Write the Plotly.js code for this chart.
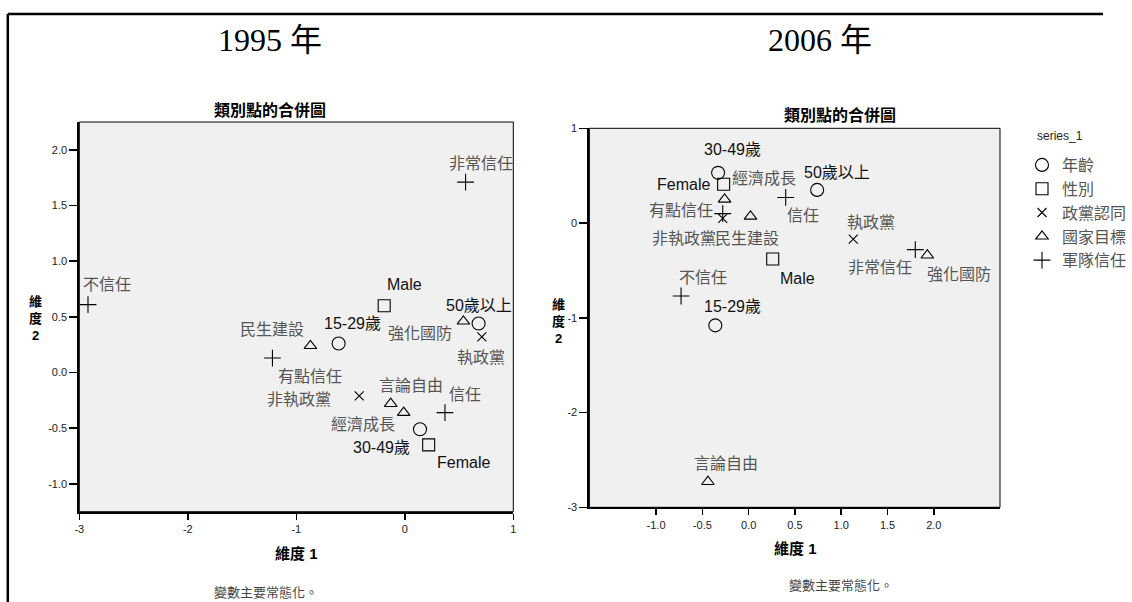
<!DOCTYPE html>
<html><head><meta charset="utf-8">
<script src="https://cdn.plot.ly/plotly-3.0.1.min.js"></script>
<style>html,body{margin:0;padding:0;background:#fff}#chart{width:1132px;height:602px}</style>
</head><body><div id="chart"></div>
<script>
// ---- categories ----
const groupNames = ['年齡', '性別', '政黨認同', '國家目標', '軍隊信任'];
const ageCats = ['15-29歲', '30-49歲', '50歲以上'];
const sexCats = ['Male', 'Female'];
const partyCats = ['執政黨', '非執政黨'];
const goalCats = ['強化國防', '民生建設', '言論自由', '經濟成長'];
const armyCats = ['非常信任', '信任', '有點信任', '不信任'];

// ---- 1995 values (dimension 1, dimension 2) ----
const age95Dim1 = [-0.61, 0.14, 0.68];
const age95Dim2 = [0.26, -0.51, 0.44];
const sex95Dim1 = [-0.19, 0.22];
const sex95Dim2 = [0.60, -0.65];
const party95Dim1 = [0.71, -0.42];
const party95Dim2 = [0.32, -0.21];
const goal95Dim1 = [0.54, -0.87, -0.13, -0.01];
const goal95Dim2 = [0.46, 0.24, -0.28, -0.36];
const army95Dim1 = [0.56, 0.37, -1.22, -2.92];
const army95Dim2 = [1.71, -0.36, 0.13, 0.61];

// ---- 2006 values ----
const age06Dim1 = [-0.36, -0.33, 0.74];
const age06Dim2 = [-1.08, 0.53, 0.35];
const sex06Dim1 = [0.26, -0.27];
const sex06Dim2 = [-0.38, 0.41];
const party06Dim1 = [1.13, -0.28];
const party06Dim2 = [-0.17, 0.05];
const goal06Dim1 = [1.93, 0.02, -0.44, -0.26];
const goal06Dim2 = [-0.34, 0.07, -2.73, 0.25];
const army06Dim1 = [1.80, 0.40, -0.28, -0.73];
const army06Dim2 = [-0.28, 0.27, 0.10, -0.77];

// ---- tick labels ----
const x95Ticks = [-3, -2, -1, 0, 1];
const x95TickText = ['-3', '-2', '-1', '0', '1'];
const y95Ticks = [-1.0, -0.5, 0.0, 0.5, 1.0, 1.5, 2.0];
const y95TickText = ['-1.0', '-0.5', '0.0', '0.5', '1.0', '1.5', '2.0'];
const x06Ticks = [-1.0, -0.5, 0.0, 0.5, 1.0, 1.5, 2.0];
const x06TickText = ['-1.0', '-0.5', '0.0', '0.5', '1.0', '1.5', '2.0'];
const y06Ticks = [-3, -2, -1, 0, 1];
const y06TickText = ['-3', '-2', '-1', '0', '1'];

// ---- label placement (pixel offsets from marker: [dx, dy], dy downwards) ----
const labelOffset95 = {
  '非常信任': [15, -19], '不信任': [19, -20], 'Male': [20, -21], '50歲以上': [0, -18],
  '強化國防': [-43, 12], '執政黨': [-1, 21], '民生建設': [-38, -16], '15-29歲': [14, -20],
  '有點信任': [38, 18], '非執政黨': [-60, 4], '言論自由': [20, -18], '信任': [20, -18],
  '經濟成長': [-41, 12], '30-49歲': [-38, 18], 'Female': [35, 18]
};
const labelOffset06 = {
  '30-49歲': [14, -23], 'Female': [-40, 0], '經濟成長': [39, -21], '50歲以上': [20, -17],
  '有點信任': [-42, -3], '信任': [17, 18], '執政黨': [18, -17], '非執政黨': [-39, 20],
  '民生建設': [-3, 22], 'Male': [25, 19], '非常信任': [-35, 18], '強化國防': [32, 19],
  '不信任': [22, -19], '15-29歲': [17, -19], '言論自由': [18, -18]
};

const catSets = [ageCats, sexCats, partyCats, goalCats, armyCats];
const d95 = [[age95Dim1, age95Dim2], [sex95Dim1, sex95Dim2], [party95Dim1, party95Dim2], [goal95Dim1, goal95Dim2], [army95Dim1, army95Dim2]];
const d06 = [[age06Dim1, age06Dim2], [sex06Dim1, sex06Dim2], [party06Dim1, party06Dim2], [goal06Dim1, goal06Dim2], [army06Dim1, army06Dim2]];

const symbols = ['circle-open', 'square-open', 'x-thin-open', 'triangle-up-open', 'cross-thin-open'];
const sizes = [13, 12, 9, 11, 12];

const FONT = 'Liberation Sans, Arial, Noto Sans CJK TC, sans-serif';
const traces = [];
const annotations = [];

function addPanel(data, xa, ya, offsets, legend) {
  data.forEach((pair, g) => {
    traces.push({
      type: 'scatter', mode: 'markers', name: groupNames[g],
      x: pair[0], y: pair[1], xaxis: xa, yaxis: ya,
      showlegend: legend, hoverinfo: 'skip',
      marker: { symbol: symbols[g], size: sizes[g], color: '#000', line: { color: '#000', width: 1.1 } },
      cliponaxis: false
    });
    catSets[g].forEach((lab, i) => {
      const off = offsets[lab] || [0, -18];
      const latin = /[A-Za-z0-9]/.test(lab);
      annotations.push({
        x: pair[0][i], y: pair[1][i], xref: xa, yref: ya, text: lab, showarrow: false,
        xshift: off[0], yshift: -off[1], xanchor: 'center', yanchor: 'middle',
        font: { family: FONT, size: 16, color: latin ? '#111' : '#555' }
      });
    });
  });
}
addPanel(d95, 'x', 'y', labelOffset95, false);
addPanel(d06, 'x2', 'y2', labelOffset06, true);

function px(x) { return x / 1132; }
function py(y) { return 1 - y / 602; }
function paperText(text, x, y, size, opts) {
  annotations.push(Object.assign({
    text: text, x: px(x), y: py(y), xref: 'paper', yref: 'paper', showarrow: false,
    xanchor: 'center', yanchor: 'middle', font: { family: FONT, size: size, color: '#000' }
  }, opts || {}));
}
const SERIF = 'Liberation Serif, Times New Roman, Noto Sans CJK TC, serif';
paperText('1995 年', 277, 40, 32, { font: { family: SERIF, size: 32, color: '#000' } });
paperText('2006 年', 842, 40, 32, { font: { family: SERIF, size: 32, color: '#000' } });
paperText('<b>類別點的合併圖</b>', 277, 110, 16);
paperText('<b>類別點的合併圖</b>', 862, 115, 16);
paperText('<b>維度 1</b>', 304, 553, 15);
paperText('<b>維度 1</b>', 816, 548, 15);
paperText('<b>維<br>度<br>2</b>', 36, 318, 13);
paperText('<b>維<br>度<br>2</b>', 573, 322, 13);
paperText('變數主要常態化。', 273, 592, 13, { font: { family: FONT, size: 13, color: '#444' } });
paperText('變數主要常態化。', 863, 585, 13, { font: { family: FONT, size: 13, color: '#444' } });
paperText('series_1', 1088, 136, 12, { font: { family: FONT, size: 12, color: '#222' } });

const axBase = {
  showgrid: false, zeroline: false, showline: true, linecolor: '#000', linewidth: 2,
  ticks: 'outside', tickcolor: '#000', tickwidth: 1.5,
  tickfont: { family: FONT, size: 11, color: '#222' }, fixedrange: true
};

const layout = {
  width: 1132, height: 602,
  margin: { l: 0, r: 0, t: 0, b: 0 },
  paper_bgcolor: '#fff', plot_bgcolor: '#f0f0f0',
  font: { family: FONT },
  xaxis: Object.assign({}, axBase, { domain: [px(81.4), px(526.8)], anchor: 'y', range: [-3, 1], tickvals: x95Ticks, ticktext: x95TickText, ticklen: 6 }),
  yaxis: Object.assign({}, axBase, { domain: [py(511.7), py(122)], anchor: 'x', range: [-1.25, 2.25], tickvals: y95Ticks, ticktext: y95TickText, ticklen: 8 }),
  xaxis2: Object.assign({}, axBase, { domain: [px(604.9), px(1026.3)], anchor: 'y2', range: [-1.72, 2.715], tickvals: x06Ticks, ticktext: x06TickText, ticklen: 6 }),
  yaxis2: Object.assign({}, axBase, { domain: [py(507.3), py(128.3)], anchor: 'x2', range: [-3, 1], tickvals: y06Ticks, ticktext: y06TickText, ticklen: 8 }),
  showlegend: true,
  legend: {
    x: px(1049), y: py(148), xanchor: 'left', yanchor: 'top',
    bgcolor: 'rgba(0,0,0,0)', borderwidth: 0,
    font: { family: FONT, size: 16, color: '#555' },
    itemclick: false, itemdoubleclick: false
  },
  annotations: annotations,
  shapes: [
    { type: 'rect', xref: 'x domain', yref: 'y domain', x0: 0, x1: 1, y0: 0, y1: 1, line: { color: '#000', width: 1 } },
    { type: 'rect', xref: 'x2 domain', yref: 'y2 domain', x0: 0, x1: 1, y0: 0, y1: 1, line: { color: '#000', width: 1 } },
    { type: 'line', xref: 'paper', yref: 'paper', x0: px(8), x1: 1, y0: py(14), y1: py(14), line: { color: '#000', width: 2.5 } },
    { type: 'line', xref: 'paper', yref: 'paper', x0: px(8), x1: px(8), y0: py(14), y1: 0, line: { color: '#000', width: 2.5 } }
  ]
};

Plotly.newPlot('chart', traces, layout, { staticPlot: true, displayModeBar: false });
</script>
</body></html>
